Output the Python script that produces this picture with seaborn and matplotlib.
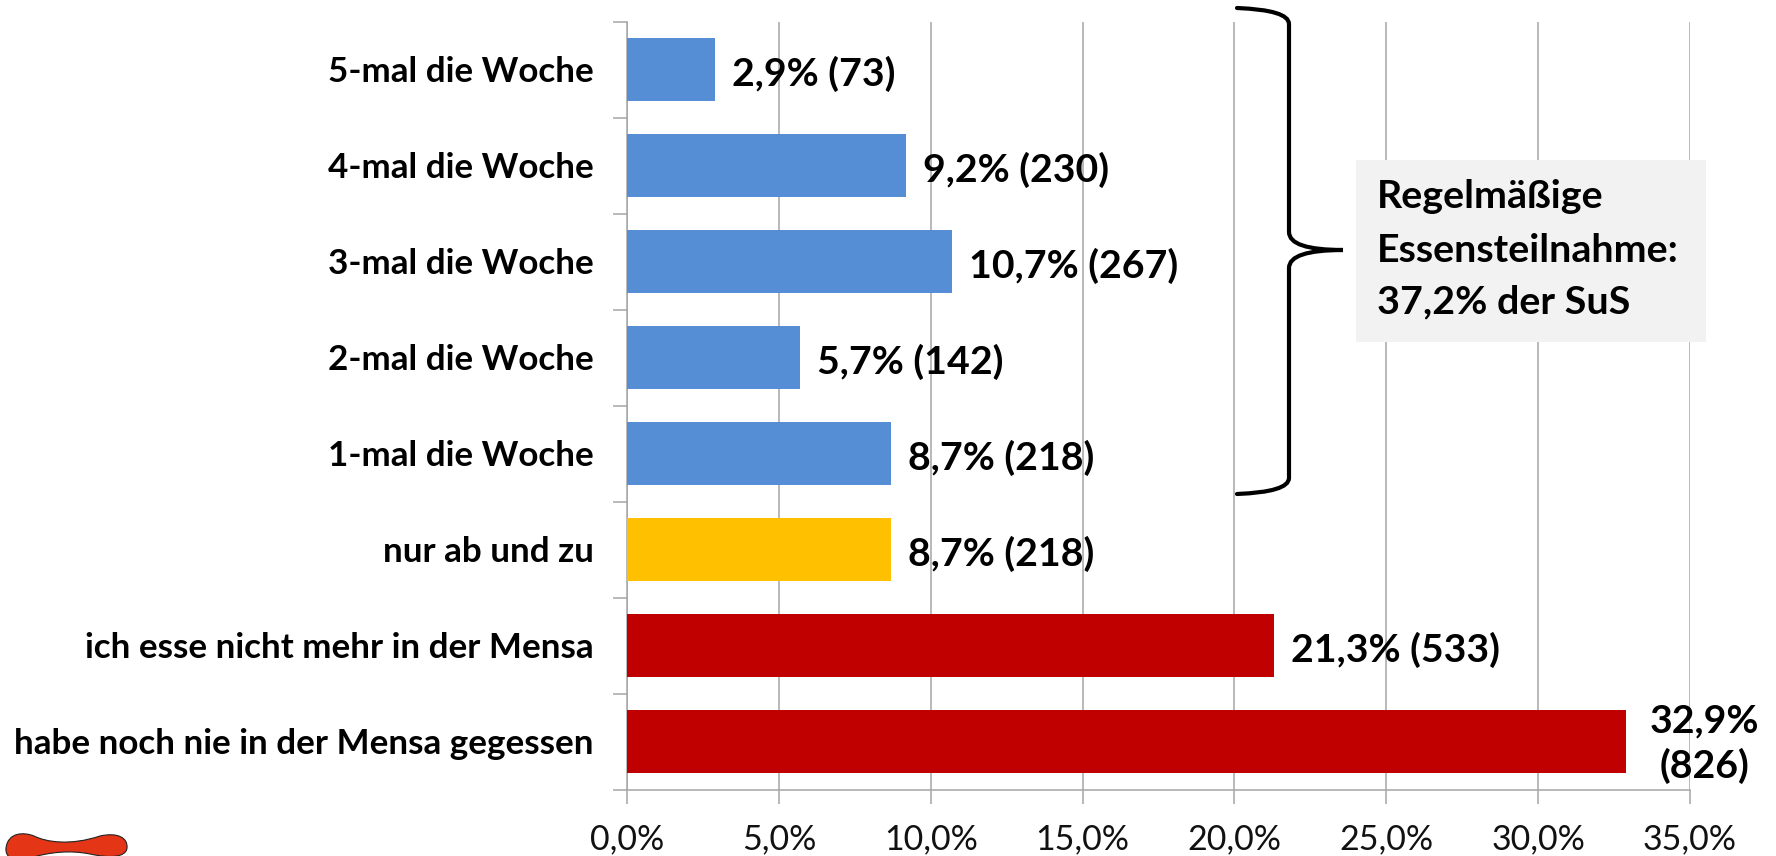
import matplotlib
matplotlib.use("Agg")
import matplotlib.pyplot as plt
from matplotlib.patches import PathPatch, Rectangle
from matplotlib.path import Path
import numpy as np
import pandas as pd
import seaborn as sns

categories = ["5-mal die Woche", "4-mal die Woche", "3-mal die Woche", "2-mal die Woche",
              "1-mal die Woche", "nur ab und zu", "ich esse nicht mehr in der Mensa",
              "habe noch nie in der Mensa gegessen"]
percent = [2.9, 9.2, 10.7, 5.7, 8.7, 8.7, 21.3, 32.9]
counts = [73, 230, 267, 142, 218, 218, 533, 826]
groups = ["regular", "regular", "regular", "regular", "regular", "sometimes", "never", "never"]
group_colors = {"regular": "#558ED5", "sometimes": "#FFC000", "never": "#C00000"}
xticks = [0, 5, 10, 15, 20, 25, 30, 35]
note_lines = ["Regelmäßige", "Essensteilnahme:", "37,2% der SuS"]

W, H = 1776, 856

sns.set_theme(style="white")
plt.rcParams["font.family"] = ["Lato", "DejaVu Sans"]

df = pd.DataFrame({"cat": categories, "pct": percent, "n": counts, "group": groups})

fig = plt.figure(figsize=(W / 100, H / 100), dpi=100, facecolor="white")
ax = fig.add_axes([627 / W, 1 - 789.5 / H, (1690 - 627) / W, (789.5 - 21.5) / H])

sns.barplot(data=df, x="pct", y="cat", hue="group", palette=group_colors, dodge=False,
            legend=False, width=0.66, saturation=1, linewidth=0, ax=ax, zorder=3)

ax.set_xlim(0, 35)
ax.set_ylim(7.5, -0.5)
ax.set_xlabel("")
ax.set_ylabel("")
ax.set_xticks(xticks)
ax.set_xticklabels([f"{t},0%" for t in xticks], fontsize=24.5, color="#111111")
ax.set_yticks(np.arange(-0.5, 8, 1))
ax.set_yticklabels([])
ax.xaxis.grid(True, color="#a6a6a6", lw=1.1, zorder=0)
ax.yaxis.grid(False)
ax.set_axisbelow(True)
for side in ["top", "right"]:
    ax.spines[side].set_visible(False)
for side in ["left", "bottom"]:
    ax.spines[side].set_color("#a6a6a6")
    ax.spines[side].set_linewidth(1.1)
ax.tick_params(axis="both", length=10, width=1.1, color="#a6a6a6", left=True, bottom=True)
ax.tick_params(axis="x", pad=14.5)

# category labels and value labels
for i, row in df.iterrows():
    ax.annotate(row["cat"], (0, i), xytext=(-33, -2), textcoords="offset pixels", ha="right",
                va="center", fontsize=25.2, fontweight="bold", color="black")
    if row["pct"] > 30:
        label = f"{row['pct']:.1f}%\n({row['n']})".replace(".", ",")
        ax.annotate(label, (row["pct"], i), xytext=(78, -2), textcoords="offset pixels", ha="center",
                    va="center", fontsize=28.3, fontweight="bold", color="black", linespacing=1.3,
                    annotation_clip=False)
    else:
        label = f"{row['pct']:.1f}% ({row['n']})".replace(".", ",")
        ax.annotate(label, (row["pct"], i), xytext=(17, -4), textcoords="offset pixels", ha="left",
                    va="center", fontsize=28.3, fontweight="bold", color="black")


def px(points):
    return [(x / W, 1 - y / H) for x, y in points]


# note box
fig.add_artist(Rectangle((1356 / W, 1 - 342 / H), 350 / W, 182 / H, transform=fig.transFigure,
                         facecolor="#f2f2f2", edgecolor="none", zorder=4))
for line, y in zip(note_lines, [197, 251, 302]):
    fig.text(1377 / W, 1 - y / H, line, fontsize=28.4, fontweight="bold", color="black", va="center",
             zorder=5)

# curly brace
C = Path.CURVE3
L = Path.LINETO
brace = [(1237, 8), (1289, 10), (1289, 24), (1289, 232), (1289, 250), (1343, 250),
         (1289, 250), (1289, 268), (1289, 478), (1289, 492), (1237, 494)]
codes = [Path.MOVETO, C, C, L, C, C, C, C, L, C, C]
fig.add_artist(PathPatch(Path(px(brace), codes), transform=fig.transFigure, facecolor="none",
                         edgecolor="black", lw=3, capstyle="round", zorder=5))

# logo blob, bottom left
K = Path.CURVE4
blob = [(6, 848), (8, 832), (24, 832), (34, 836),
        (46, 842), (70, 846), (100, 836),
        (118, 832), (128, 838), (127, 848),
        (126, 858), (108, 858), (90, 854),
        (70, 850), (50, 852), (30, 858),
        (14, 862), (5, 858), (6, 848)]
blob_codes = [Path.MOVETO] + [K] * 18
fig.add_artist(PathPatch(Path(px(blob), blob_codes), transform=fig.transFigure, facecolor="#E53517",
                         edgecolor="#222222", lw=0.8, zorder=5))

fig.savefig("out.png", dpi=100)
